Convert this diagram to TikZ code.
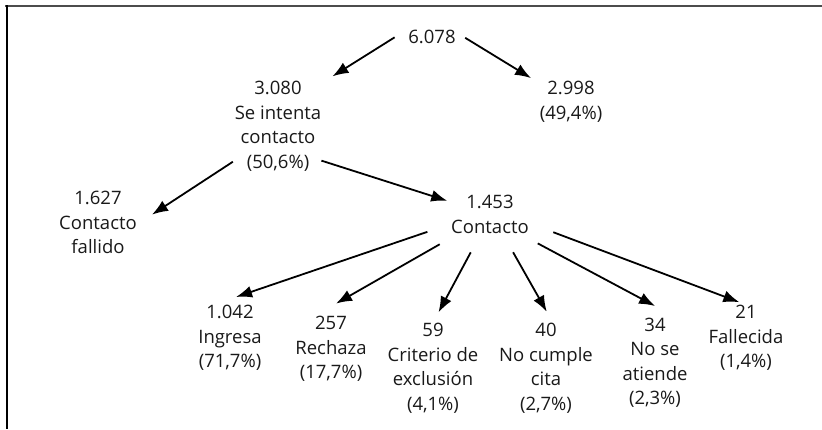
\documentclass[tikz,border=0pt]{standalone}
\usepackage{fontspec}
\setmainfont{Open Sans}
\usetikzlibrary{arrows.meta}

\begin{document}
\begin{tikzpicture}[x=1pt, y=-1pt,
    txt/.style={anchor=north, inner sep=0pt, align=center, text=black!90, font=\fontsize{18.5}{24.5}\selectfont},
    arrow/.style={-{Latex[length=16pt,width=12pt]}, line width=1.8pt}
]
    \useasboundingbox (0,0) rectangle (822,429);
    % Frame
    \draw[line width=2pt, black!70] (5,5.5) -- (822,5.5);
    \draw[line width=2pt] (7,5) -- (7,429);

    % Nodes
    \node[txt] (total) at (432,26) {\strut 6.078\strut};
    \node[txt] (intenta) at (278,77.5) {\strut 3.080\\Se intenta\\contacto\\(50,6\%)\strut};
    \node[txt] (sinintento) at (571,77.5) {\strut 2.998\\(49,4\%)\strut};
    \node[txt] (fallido) at (98,187.5) {\strut 1.627\\Contacto\\fallido\strut};
    \node[txt] (contacto) at (490,191.5) {\strut 1.453\\Contacto\strut};

    \node[txt] (ingresa) at (230,301.5) {\strut 1.042\\Ingresa\\(71,7\%)\strut};
    \node[txt] (rechaza) at (331,312.5) {\strut 257\\Rechaza\\(17,7\%)\strut};
    \node[txt] (criterio) at (433,319.5) {\strut 59\\Criterio de\\exclusión\\(4,1\%)\strut};
    \node[txt] (nocumple) at (546,319.5) {\strut 40\\No cumple\\cita\\(2,7\%)\strut};
    \node[txt] (noatiende) at (655,314) {\strut 34\\No se\\atiende\\(2,3\%)\strut};
    \node[txt] (fallecida) at (746,301.5) {\strut 21\\Fallecida\\(1,4\%)\strut};

    % Arrows
    \draw[arrow, shorten <=16pt, shorten >=13pt] (total.158) -- (intenta.45);
    \draw[arrow, shorten <=11pt, shorten >=10pt] (total.15) -- (sinintento.149);
    \draw[arrow, shorten <=2pt, shorten >=18pt] (intenta.218) -- (fallido.east);
    \draw[arrow, shorten >=4pt] (intenta.322) -- (contacto.160);

    \draw[arrow, shorten <=25pt, shorten >=14pt] (contacto.191) -- (ingresa.101);
    \draw[arrow, shorten <=13pt, shorten >=18pt] (contacto.209) -- (rechaza.106);
    \draw[arrow, shorten <=13pt, shorten >=8pt] (contacto.242) -- (criterio.88);
    \draw[arrow, shorten <=13pt, shorten >=9pt] (contacto.304) -- (nocumple.84);
    \draw[arrow, shorten <=10pt, shorten >=17pt] (contacto.330) -- (noatiende.73);
    \draw[arrow, shorten <=26pt, shorten >=-2pt] (contacto.350) -- (fallecida.103);
\end{tikzpicture}
\end{document}
